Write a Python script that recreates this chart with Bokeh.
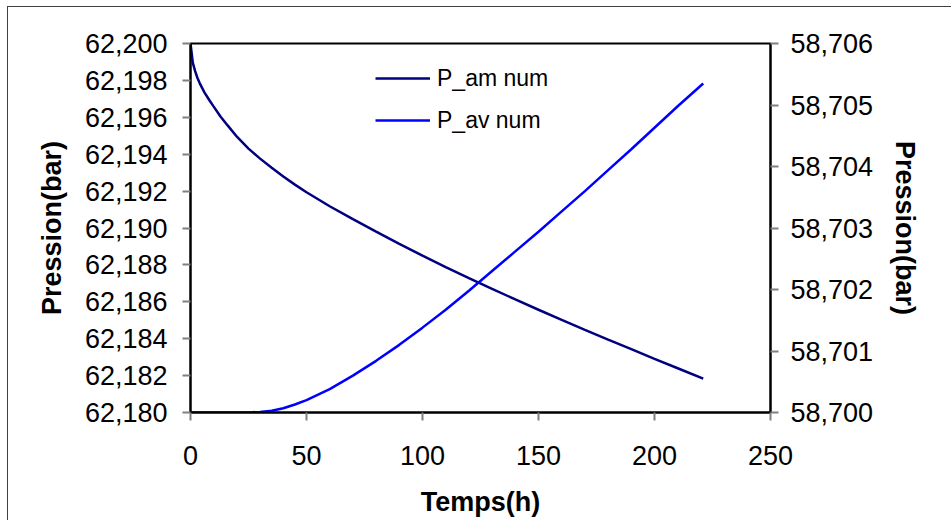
from bokeh.plotting import figure
from bokeh.models import Range1d, LinearAxis, FixedTicker, Legend, LegendItem
from bokeh.embed import file_html
from bokeh.resources import INLINE

# ---- data ----
temps = [0, 1, 2, 3, 4, 6, 8, 10, 13, 16, 20, 25, 30, 35, 40, 45, 50, 60, 70,
         80, 90, 100, 110, 120, 130, 140, 150, 160, 170, 180, 190, 200, 210, 221]
p_am = [62.20000, 62.19895, 62.19850, 62.19813, 62.19784, 62.19735, 62.19695,
        62.19658, 62.19603, 62.19556, 62.19495, 62.19430, 62.19376, 62.19326,
        62.19279, 62.19235, 62.19194, 62.19118, 62.19048, 62.18980, 62.18914,
        62.18850, 62.18788, 62.18728, 62.18670, 62.18613, 62.18557, 62.18502,
        62.18448, 62.18395, 62.18343, 62.18291, 62.18240, 62.18184]
p_av = [58.70000, 58.70000, 58.70000, 58.70000, 58.70000, 58.70000, 58.70000,
        58.70000, 58.70000, 58.70000, 58.70000, 58.70000, 58.70001, 58.70003,
        58.70007, 58.70013, 58.70020, 58.70038, 58.70060, 58.70084, 58.70110,
        58.70138, 58.70167, 58.70198, 58.70230, 58.70262, 58.70294, 58.70327,
        58.70360, 58.70394, 58.70428, 58.70463, 58.70498, 58.70535]

series_names = ["P_am num", "P_av num"]
x_ticks = [0, 50, 100, 150, 200, 250]
left_ticks = [62.180, 62.182, 62.184, 62.186, 62.188, 62.190, 62.192, 62.194,
              62.196, 62.198, 62.200]
left_labels = ["62,180", "62,182", "62,184", "62,186", "62,188", "62,190",
               "62,192", "62,194", "62,196", "62,198", "62,200"]
right_ticks = [58.700, 58.701, 58.702, 58.703, 58.704, 58.705, 58.706]
right_labels = ["58,700", "58,701", "58,702", "58,703", "58,704", "58,705",
                "58,706"]
x_title = "Temps(h)"
y_title = "Pression(bar)"

FONT = "Liberation Sans"
TICK_SIZE = "27px"
TITLE_SIZE = "27px"

p = figure(width=951, height=520, output_backend="svg", toolbar_location=None,
           x_range=Range1d(0, 250), y_range=Range1d(62.180, 62.200),
           min_border_left=190, min_border_right=181, min_border_top=43,
           min_border_bottom=108)
p.extra_y_ranges = {"right": Range1d(58.700, 58.706)}
p.xgrid.visible = False
p.ygrid.visible = False
p.outline_line_color = "black"
p.outline_line_width = 2
p.background_fill_color = "white"
p.border_fill_alpha = 0
# outer chart-area border (top and left edges, as in the reference)
p.styles = {"background": "white",
            "box-shadow": "inset 7px 6px 0 0 #ffffff, inset 8px 7px 0 0 #404040"}

r1 = p.line(temps, p_am, line_color="#000080", line_width=2.5)
r2 = p.line(temps, p_av, line_color="#0000FF", line_width=2.5, y_range_name="right")

right_axis = LinearAxis(y_range_name="right")
p.add_layout(right_axis, "right")


def style_axis(ax, ticks, labels=None, standoff=15, title=None, title_standoff=10):
    ax.ticker = FixedTicker(ticks=ticks)
    if labels is not None:
        ax.major_label_overrides = {t: l for t, l in zip(ticks, labels)}
    ax.axis_line_color = "black"
    ax.axis_line_width = 2
    ax.major_tick_in = 0
    ax.major_tick_out = 8
    ax.major_tick_line_color = "#808080"
    ax.major_tick_line_width = 2
    ax.minor_tick_line_color = None
    ax.major_label_text_font = FONT
    ax.major_label_text_font_size = TICK_SIZE
    ax.major_label_text_color = "black"
    ax.major_label_standoff = standoff
    if title is not None:
        ax.axis_label = title
        ax.axis_label_text_font = FONT
        ax.axis_label_text_font_size = TITLE_SIZE
        ax.axis_label_text_font_style = "bold"
        ax.axis_label_text_color = "black"
        ax.axis_label_standoff = title_standoff


style_axis(p.xaxis[0], x_ticks, None, standoff=25, title=x_title, title_standoff=19)
style_axis(p.yaxis[0], left_ticks, left_labels, standoff=15, title=y_title, title_standoff=15)
style_axis(right_axis, right_ticks, right_labels, standoff=12, title=y_title, title_standoff=14)

legend = Legend(items=[LegendItem(label=series_names[0], renderers=[r1]),
                       LegendItem(label=series_names[1], renderers=[r2])],
                location=(185, 277), orientation="vertical",
                border_line_color=None, background_fill_alpha=0,
                padding=0, margin=0, spacing=12, glyph_width=55, glyph_height=30,
                label_height=30, label_standoff=7,
                label_text_font=FONT, label_text_font_size="23px",
                label_text_color="black")
p.add_layout(legend)

open("out.html", "w").write(file_html(p, INLINE))
